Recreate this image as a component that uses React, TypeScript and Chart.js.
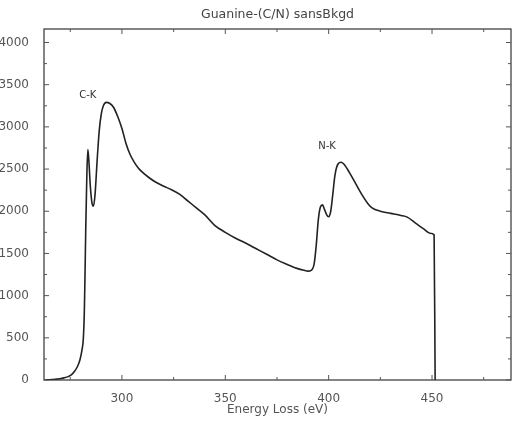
import { useEffect, useRef } from "react";
import { Chart, registerables } from "chart.js";

Chart.register(...registerables);

// ---- data ----
const energy = [
  263, 266, 270, 272, 274, 275.5, 277, 278.5, 279.7, 280.7, 281.3, 281.8, 282.1, 282.5, 283, 283.5,
  284, 284.7, 285.5, 286.2, 287, 288, 289, 290, 291, 292.5, 294, 296, 298, 300, 302, 304, 306, 308,
  310, 313, 316, 320, 324, 328, 332, 336, 340, 345, 350, 355, 360, 365, 370, 375, 380, 385, 388, 390,
  391.5, 393, 394, 395, 396, 397, 398, 399, 400, 401, 402, 403, 404.5, 406, 408, 410, 413, 416, 419,
  421, 425, 430, 435, 438, 442, 446, 449, 451, 451.5,
];
const counts = [
  0, 5, 15, 25, 40, 60, 100, 160, 240, 360, 480, 800, 1190, 1800, 2400, 2730,
  2600, 2300, 2100, 2060, 2200, 2600, 2950, 3150, 3250, 3290, 3280, 3230, 3120, 2980, 2800, 2670, 2580, 2510,
  2460, 2400, 2350, 2300, 2255, 2200, 2120, 2040, 1960, 1830, 1750, 1680, 1620, 1555, 1490, 1424, 1370, 1320, 1300, 1290,
  1300, 1380, 1600, 1900, 2050, 2075, 2020, 1960, 1935, 2000, 2200, 2420, 2560, 2580, 2540, 2460, 2330, 2200, 2090,
  2040, 2000, 1975, 1950, 1930, 1860, 1790, 1740, 1720, 0,
];
const xTicks = [300, 350, 400, 450];
const yTicks = [0, 500, 1000, 1500, 2000, 2500, 3000, 3500, 4000];
const titleText = "Guanine-(C/N) sansBkgd";
const xTitle = "Energy Loss (eV)";
const edgeLabels = ["C-K", "N-K"];
const edgeX = [283.5, 399.2];
const edgeY = [3370, 2764];

const X_MIN = 262.3;
const X_MAX = 488.2;
const Y_MAX = 4160;

const FONT = "DejaVu Sans";
const TEXT = "#555";

const framePlugin = {
  id: "frameTicks",
  afterDatasetsDraw(chart: any) {
    const { ctx, chartArea, scales } = chart;
    const { left, right, top, bottom } = chartArea;
    const x = scales.x;
    const y = scales.y;
    ctx.save();
    ctx.strokeStyle = "#333";
    ctx.lineWidth = 1.2;
    ctx.strokeRect(left, top, right - left, bottom - top);
    ctx.lineWidth = 1;
    ctx.strokeStyle = "#555";
    const seg = (x1: number, y1: number, x2: number, y2: number) => {
      ctx.beginPath();
      ctx.moveTo(x1, y1);
      ctx.lineTo(x2, y2);
      ctx.stroke();
    };
    for (let v = 0; v <= Y_MAX; v += 250) {
      const py = y.getPixelForValue(v);
      const len = v % 500 === 0 ? 5 : 3;
      seg(left, py, left + len, py);
      seg(right, py, right - len, py);
    }
    for (let v = Math.ceil(X_MIN / 25) * 25; v <= X_MAX; v += 25) {
      const px = x.getPixelForValue(v);
      const len = v % 50 === 0 ? 5 : 3;
      seg(px, bottom, px, bottom - len);
      seg(px, top, px, top + len);
    }
    // title
    ctx.fillStyle = "#444";
    ctx.font = `12.5px "${FONT}"`;
    ctx.textAlign = "center";
    ctx.textBaseline = "middle";
    ctx.fillText(titleText, (left + right) / 2, 15);
    // edge labels
    ctx.fillStyle = "#333";
    ctx.font = `10px "${FONT}"`;
    edgeLabels.forEach((t, i) => {
      ctx.fillText(t, x.getPixelForValue(edgeX[i]), y.getPixelForValue(edgeY[i]));
    });
    ctx.restore();
  },
};

export default function App() {
  const ref = useRef<HTMLCanvasElement | null>(null);

  useEffect(() => {
    if (!ref.current) return;
    const chart = new Chart(ref.current, {
      type: "line",
      data: {
        datasets: [
          {
            data: energy.map((e, i) => ({ x: e, y: counts[i] })),
            borderColor: "#222",
            borderWidth: 1.6,
            pointRadius: 0,
            cubicInterpolationMode: "monotone",
            fill: false,
          },
        ],
      },
      options: {
        animation: false,
        responsive: false,
        layout: { padding: { top: 29, right: 5, left: 0, bottom: 0 } },
        plugins: {
          legend: { display: false },
          tooltip: { enabled: false },
          title: { display: false },
        },
        scales: {
          x: {
            type: "linear",
            min: X_MIN,
            max: X_MAX,
            grid: { display: false },
            border: { display: false },
            afterBuildTicks: (s: any) => {
              s.ticks = xTicks.map((v) => ({ value: v }));
            },
            afterFit: (s: any) => {
              s.height = 43;
            },
            ticks: {
              color: TEXT,
              font: { family: FONT, size: 12 },
              padding: 4,
              maxRotation: 0,
              autoSkip: false,
              callback: (v: any) => String(v),
            },
            title: {
              display: true,
              text: xTitle,
              color: TEXT,
              font: { family: FONT, size: 12 },
              padding: { top: 0, bottom: 6 },
            },
          },
          y: {
            type: "linear",
            min: 0,
            max: Y_MAX,
            grid: { display: false },
            border: { display: false },
            afterBuildTicks: (s: any) => {
              s.ticks = yTicks.map((v) => ({ value: v }));
            },
            afterFit: (s: any) => {
              s.width = 44;
            },
            ticks: {
              color: TEXT,
              font: { family: FONT, size: 12 },
              padding: 7,
              autoSkip: false,
              callback: (v: any) => String(v),
            },
          },
        },
      },
      plugins: [framePlugin],
    });
    return () => chart.destroy();
  }, []);

  return (
    <div
      style={{
        position: "fixed",
        left: 0,
        top: 0,
        width: 516,
        height: 423,
        background: "#fff",
      }}
    >
      <canvas ref={ref} width={516} height={423} style={{ display: "block" }} />
    </div>
  );
}
